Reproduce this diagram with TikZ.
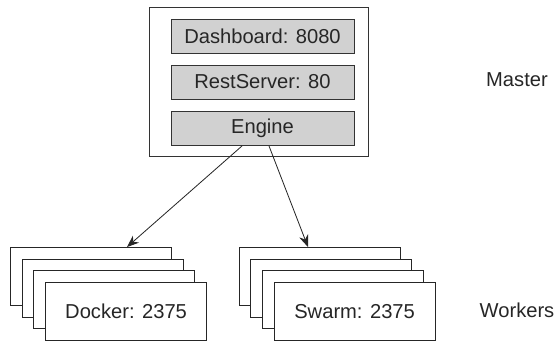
\documentclass[tikz,border=0pt]{standalone}
\usepackage{fontspec}
\setmainfont{Liberation Sans}
\usepackage{tikz}
\usetikzlibrary{positioning,calc,arrows.meta}

\tikzset{
    part/.style={draw=black!80, fill=black!18, line width=0.8pt, minimum width=5.49cm, minimum height=1.02cm, inner sep=0pt},
    host/.style={draw=black!85, fill=white, line width=0.8pt, minimum width=4.83cm, minimum height=1.74cm, inner sep=0pt},
    link/.style={draw=black!85, line width=0.7pt, -{Stealth[length=3.6mm, width=2.8mm]}}
}

\begin{document}
\begin{tikzpicture}[x=0.03cm, y=-0.03cm, font=\fontsize{17.2}{20}\selectfont, text=black!85]
        \useasboundingbox (0,0) rectangle (557,341);
        % master
        \node[draw=black!80, line width=0.8pt, minimum width=6.57cm, minimum height=4.47cm] (master) at (258.5,81.5) {};
        \node[part] (dash) at (262.5,36) {Dashboard: 8080};
        \node[part] (rest) at (262.5,82) {RestServer: 80};
        \node[part] (engine) at (262.5,128.5) {Engine};
        \node at (517,80) {Master};
        % workers
        \foreach \i in {0,1,2,3} {
            \node[host] (dock\i) at (91+11.7*\i,276.5+11.7*\i) {};
            \node[host] (swarm\i) at (319.5+11.7*\i,276.5+11.7*\i) {};
        }
        \node at (dock3) {Docker: 2375};
        \node at (swarm3) {Swarm: 2375};
        \node at (517,310.5) {Workers};
        % links
        \draw[link] ([xshift=-0.615cm]engine.south) -- ([xshift=1.08cm]dock0.north);
        \draw[link] ([xshift=0.195cm]engine.south) -- ([xshift=-0.345cm]swarm0.north);
    \end{tikzpicture}
\end{document}
